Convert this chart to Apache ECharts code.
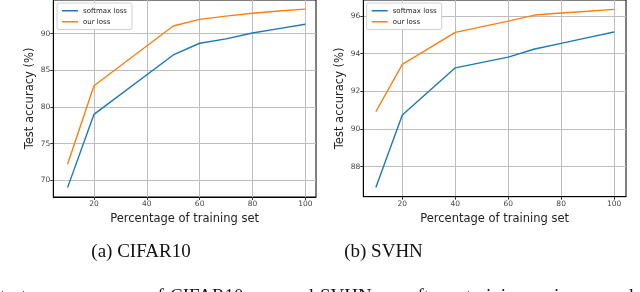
<!DOCTYPE html>
<html>
<head>
<meta charset="utf-8">
<script src="https://cdn.jsdelivr.net/npm/echarts@6/dist/echarts.min.js"></script>
<style>html,body{margin:0;padding:0;background:#fff;}#c{width:640px;height:292px;}</style>
</head>
<body>
<div id="c"></div>
<script>
// ---- data ----
const cifarX = [10, 20, 50, 60, 70, 80, 90, 100];
const cifarSoftmax = [69.0, 79.0, 87.1, 88.7, 89.3, 90.1, 90.7, 91.3];
const cifarOurs = [72.2, 82.9, 91.05, 91.95, 92.4, 92.8, 93.1, 93.35];

const svhnX = [10, 20, 40, 60, 70, 80, 90, 100];
const svhnSoftmax = [86.9, 90.75, 93.25, 93.82, 94.25, 94.55, 94.85, 95.15];
const svhnOurs = [90.92, 93.43, 95.13, 95.73, 96.05, 96.16, 96.25, 96.35];

const xTicks = [20, 40, 60, 80, 100];
const cifarYTicks = [70, 75, 80, 85, 90];
const svhnYTicks = [88, 90, 92, 94, 96];

const seriesNames = ['softmax loss', 'our loss'];
const captions = ['(a) CIFAR10', '(b) SVHN'];
const xName = 'Percentage of training set';
const yName = 'Test accuracy (%)';
const bottomWords = [['test', 0], ['accuracy', 65], ['of', 148], ['CIFAR10', 170], ['and', 286], ['SVHN', 320], ['after', 409], ['training', 466], ['using', 537], ['and', 606]];

const BLUE = '#1f77b4', ORANGE = '#ff7f0e';
const pair = (xs, ys) => xs.map((x, i) => [x, ys[i]]);

function xAxis(gi, min, max) {
  return {
    type: 'value', gridIndex: gi, min: min, max: max,
    name: xName, nameLocation: 'middle', nameGap: 13,
    nameTextStyle: { fontFamily: 'DejaVu Sans', fontSize: 11.5, color: '#222' },
    axisLine: { show: true, onZero: false, lineStyle: { color: '#000', width: 1 } },
    axisTick: { show: true, length: 3, customValues: xTicks, lineStyle: { color: '#333' } },
    axisLabel: { customValues: xTicks, fontFamily: 'DejaVu Sans', fontSize: 7.5, color: '#444', margin: 3 },
    splitLine: { show: true, lineStyle: { color: '#bdbdbd', width: 1 } }
  };
}
function yAxis(gi, min, max, ticks) {
  return {
    type: 'value', gridIndex: gi, min: min, max: max,
    name: yName, nameLocation: 'middle', nameGap: 17,
    nameTextStyle: { fontFamily: 'DejaVu Sans', fontSize: 11.5, color: '#222' },
    axisLine: { show: true, onZero: false, lineStyle: { color: '#000', width: 1 } },
    axisTick: { show: true, length: 3, customValues: ticks, lineStyle: { color: '#333' } },
    axisLabel: { customValues: ticks, fontFamily: 'DejaVu Sans', fontSize: 7.5, color: '#444', margin: 3 },
    splitLine: { show: true, lineStyle: { color: '#bdbdbd', width: 1 } }
  };
}
function legend(left) {
  return {
    data: seriesNames.map(n => ({ name: n, icon: 'rect' })), left: left, top: 3, orient: 'vertical',
    itemWidth: 16, itemHeight: 1.5, itemGap: 2.5,
    padding: [3.5, 5, 3.5, 5],
    borderColor: '#d0d0d0', borderWidth: 1, borderRadius: 2, backgroundColor: '#fff',
    textStyle: { fontFamily: 'DejaVu Sans', fontSize: 7, color: '#222', lineHeight: 8.5 },
    selectedMode: false
  };
}
function line(name, data, color, gi) {
  return {
    type: 'line', name: name, data: data, xAxisIndex: gi, yAxisIndex: gi,
    symbol: 'none', lineStyle: { color: color, width: 1.4 }, itemStyle: { color: color },
    z: 3
  };
}

const graphics = [];
graphics.push({ type: 'text', x: 141, y: 252, style: { text: captions[0], font: '19px "Liberation Serif"', fill: '#111', textAlign: 'center', textVerticalAlign: 'middle' } });
graphics.push({ type: 'text', x: 383.5, y: 252, style: { text: captions[1], font: '19px "Liberation Serif"', fill: '#111', textAlign: 'center', textVerticalAlign: 'middle' } });
bottomWords.forEach(w => graphics.push({ type: 'text', x: w[1], y: 288, style: { text: w[0], font: '19px "Liberation Serif"', fill: '#111', textAlign: 'left', textVerticalAlign: 'top' } }));

const chart = echarts.init(document.getElementById('c'), null, { renderer: 'canvas' });
chart.setOption({
  animation: false,
  backgroundColor: '#fff',
  grid: [
    { left: 53.3, right: 324, top: 0, bottom: 95, show: true, borderColor: '#000', borderWidth: 1, backgroundColor: 'transparent' },
    { left: 363.3, right: 14, top: 0, bottom: 95.3, show: true, borderColor: '#000', borderWidth: 1, backgroundColor: 'transparent' }
  ],
  xAxis: [xAxis(0, 4.6, 104.05), xAxis(1, 5.26, 104.5)],
  yAxis: [yAxis(0, 67.72, 94.6, cifarYTicks), yAxis(1, 86.41, 96.85, svhnYTicks)],
  legend: [legend(57), legend(366.7)],
  series: [
    line(seriesNames[0], pair(cifarX, cifarSoftmax), BLUE, 0),
    line(seriesNames[1], pair(cifarX, cifarOurs), ORANGE, 0),
    line(seriesNames[0], pair(svhnX, svhnSoftmax), BLUE, 1),
    line(seriesNames[1], pair(svhnX, svhnOurs), ORANGE, 1)
  ],
  graphic: graphics
});
</script>
</body>
</html>
